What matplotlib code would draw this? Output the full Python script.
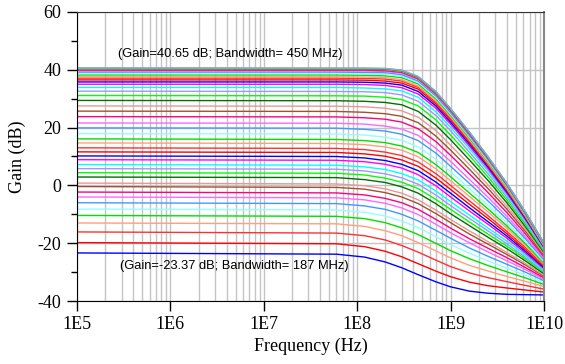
import matplotlib
matplotlib.use("Agg")
import matplotlib.pyplot as plt
from matplotlib.ticker import FixedLocator, NullFormatter, MultipleLocator

freq_hz = [1e5, 6e7, 1.2e8, 2e8, 3e8, 4.5e8, 7e8, 1e9, 1.6e9, 2.5e9, 4e9, 6.3e9, 1e10]

# Gain (dB) of the 46 curves, bottom curve first, one list per frequency
gain_100kHz = [-23.37, -19.8, -16.1, -13.0, -10.4, -8.2, -6.0, -4.0, -2.3, -0.4,
               0.8, 2.9, 4.4, 5.8, 7.2, 8.9, 10.2, 11.6, 13.0, 14.7,
               16.1, 17.9, 19.9, 21.6, 23.8, 25.7, 27.5, 29.4, 31.1, 32.6,
               33.9, 35.0, 35.8, 36.5, 37.1, 37.6, 38.2, 38.7, 39.2, 39.6,
               39.9, 40.1, 40.3, 40.45, 40.55, 40.65]
gain_60MHz = [-23.8, -20.2, -16.5, -13.3, -10.7, -8.5, -6.3, -4.3, -2.6, -0.7, 0.5, 2.7, 4.2, 5.6, 7.0, 8.7,
              10.0, 11.4, 12.8, 14.5, 15.9, 17.8, 19.8, 21.5, 23.7, 25.6, 27.4, 29.3, 31.0, 32.5, 33.9,
              35.0, 35.8, 36.5, 37.1, 37.6, 38.2, 38.7, 39.2, 39.6, 39.9, 40.1, 40.3, 40.4, 40.5, 40.6]
gain_120MHz = [-24.8, -21.2, -17.4, -14.2, -11.5, -9.3, -7.1, -5.0, -3.3, -1.3, -0.1, 2.0, 3.6, 5.0, 6.4, 8.2,
               9.5, 10.9, 12.4, 14.1, 15.5, 17.4, 19.4, 21.2, 23.4, 25.3, 27.2, 29.1, 30.9, 32.4, 33.7,
               34.9, 35.7, 36.4, 37.0, 37.5, 38.1, 38.6, 39.1, 39.6, 39.9, 40.1, 40.3, 40.4, 40.5, 40.6]
gain_200MHz = [-26.5, -22.8, -18.9, -15.7, -12.9, -10.6, -8.3, -6.2, -4.5, -2.5, -1.2, 1.0, 2.5, 4.0, 5.5, 7.3,
               8.6, 10.1, 11.5, 13.3, 14.8, 16.7, 18.8, 20.5, 22.9, 24.8, 26.7, 28.7, 30.5, 32.1, 33.4,
               34.6, 35.4, 36.1, 36.8, 37.3, 37.9, 38.4, 39.0, 39.4, 39.7, 39.9, 40.1, 40.3, 40.4, 40.5]
gain_300MHz = [-28.5, -24.7, -20.8, -17.4, -14.7, -12.3, -10.0, -7.8, -6.0, -4.0, -2.7, -0.5, 1.1, 2.6, 4.1, 6.0,
               7.3, 8.8, 10.3, 12.2, 13.6, 15.6, 17.7, 19.5, 21.9, 23.9, 25.8, 27.9, 29.7, 31.3, 32.7,
               33.8, 34.7, 35.4, 36.1, 36.6, 37.3, 37.8, 38.3, 38.8, 39.1, 39.3, 39.5, 39.7, 39.8, 39.9]
gain_450MHz = [-30.9, -27.1, -23.1, -19.8, -17.0, -14.6, -12.3, -10.1, -8.3, -6.3, -5.0, -2.7, -1.1, 0.4, 1.9, 3.7,
               5.1, 6.6, 8.1, 9.9, 11.4, 13.3, 15.5, 17.3, 19.6, 21.7, 23.6, 25.6, 27.5, 29.1, 30.5,
               31.6, 32.5, 33.3, 33.9, 34.4, 35.1, 35.6, 36.1, 36.6, 36.9, 37.1, 37.3, 37.5, 37.6, 37.7]
gain_700MHz = [-33.4, -29.7, -25.9, -22.7, -20.1, -17.8, -15.6, -13.5, -11.8, -9.8, -8.6, -6.4, -4.9, -3.4, -2.0, -0.2,
               1.1, 2.5, 4.0, 5.7, 7.1, 9.0, 11.1, 12.8, 15.1, 17.0, 18.9, 20.8, 22.6, 24.1, 25.4,
               26.6, 27.4, 28.1, 28.7, 29.2, 29.9, 30.4, 30.9, 31.3, 31.6, 31.8, 32.0, 32.2, 32.3, 32.4]
gain_1GHz = [-35.1, -31.6, -28.1, -25.1, -22.6, -20.5, -18.3, -16.4, -14.8, -12.9, -11.8, -9.8, -8.3, -7.0, -5.6, -4.0,
             -2.7, -1.4, 0.0, 1.6, 3.0, 4.7, 6.6, 8.3, 10.4, 12.2, 13.9, 15.8, 17.4, 18.9, 20.1,
             21.2, 21.9, 22.6, 23.2, 23.7, 24.3, 24.7, 25.2, 25.6, 25.9, 26.1, 26.3, 26.4, 26.5, 26.6]
gain_1p6GHz = [-36.6, -33.5, -30.3, -27.7, -25.4, -23.5, -21.7, -19.9, -18.5, -16.9, -15.8, -14.0, -12.7, -11.5, -10.3, -8.9,
               -7.8, -6.6, -5.4, -3.9, -2.7, -1.2, 0.6, 2.0, 3.9, 5.5, 7.1, 8.7, 10.2, 11.4, 12.6,
               13.5, 14.2, 14.8, 15.3, 15.7, 16.3, 16.7, 17.1, 17.5, 17.7, 17.9, 18.1, 18.2, 18.3, 18.4]
gain_2p5GHz = [-37.3, -34.7, -31.9, -29.6, -27.7, -26.1, -24.5, -23.0, -21.7, -20.3, -19.4, -17.9, -16.8, -15.7, -14.7, -13.4,
               -12.5, -11.4, -10.4, -9.1, -8.1, -6.8, -5.3, -4.0, -2.4, -1.0, 0.3, 1.8, 3.0, 4.1, 5.1,
               5.9, 6.5, 7.0, 7.5, 7.8, 8.3, 8.6, 9.0, 9.3, 9.5, 9.7, 9.8, 9.9, 10.0, 10.1]
gain_4GHz = [-37.7, -35.5, -33.3, -31.5, -29.9, -28.6, -27.3, -26.1, -25.0, -23.9, -23.2, -21.9, -21.0, -20.2, -19.3, -18.3,
             -17.5, -16.7, -15.9, -14.8, -14.0, -12.9, -11.7, -10.7, -9.4, -8.2, -7.2, -6.0, -5.0, -4.1, -3.3,
             -2.7, -2.2, -1.8, -1.4, -1.1, -0.7, -0.4, -0.1, 0.1, 0.3, 0.4, 0.5, 0.6, 0.7, 0.7]
gain_6p3GHz = [-37.8, -36.2, -34.6, -33.2, -32.0, -31.0, -30.0, -29.1, -28.4, -27.5, -27.0, -26.1, -25.4, -24.8, -24.1, -23.4,
               -22.8, -22.2, -21.5, -20.8, -20.1, -19.3, -18.4, -17.7, -16.7, -15.8, -15.0, -14.2, -13.4, -12.7, -12.2,
               -11.7, -11.3, -11.0, -10.7, -10.5, -10.2, -10.0, -9.8, -9.6, -9.5, -9.4, -9.3, -9.2, -9.2, -9.1]
gain_10GHz = [-37.9, -36.9, -35.9, -35.0, -34.3, -33.7, -33.0, -32.5, -32.0, -31.5, -31.1, -30.6, -30.1, -29.7, -29.4, -28.9,
              -28.5, -28.1, -27.7, -27.3, -26.9, -26.4, -25.8, -25.3, -24.7, -24.2, -23.7, -23.2, -22.7, -22.3, -21.9,
              -21.6, -21.4, -21.2, -21.0, -20.9, -20.7, -20.6, -20.4, -20.3, -20.2, -20.2, -20.1, -20.1, -20.0, -20.0]

x_ticks = [1e5, 1e6, 1e7, 1e8, 1e9, 1e10]
x_tick_labels = ['1E5', '1E6', '1E7', '1E8', '1E9', '1E10']
y_ticks = [-40, -20, 0, 20, 40, 60]
label_top = '(Gain=40.65 dB; Bandwidth= 450 MHz)'
label_bottom = '(Gain=-23.37 dB; Bandwidth= 187 MHz)'

colors = ['#0000ff', '#ff0000', '#ff3030', '#ffa07a', '#00e000', '#90ffff',
          '#3d9bff', '#ff66ff', '#ff0080', '#a0522d', '#e89898', '#007000',
          '#00ff00', '#9999ff', '#00ffff', '#ff00ff']

columns = [gain_100kHz, gain_60MHz, gain_120MHz, gain_200MHz, gain_300MHz, gain_450MHz,
           gain_700MHz, gain_1GHz, gain_1p6GHz, gain_2p5GHz, gain_4GHz, gain_6p3GHz, gain_10GHz]

plt.rcParams['font.family'] = 'Liberation Serif'
plt.rcParams['axes.unicode_minus'] = False
fig = plt.figure(figsize=(5.65, 3.64), dpi=100)
ax = fig.add_axes([77/565, 1-301/364, 467/565, 289/364])
ax.set_xscale('log')
ax.set_xlim(1e5, 1e10)
ax.set_ylim(-40, 60)
ax.xaxis.set_major_locator(FixedLocator(x_ticks))
ax.set_xticklabels(x_tick_labels)
minors = [m*10**e for e in range(5, 10) for m in range(2, 10)]
ax.xaxis.set_minor_locator(FixedLocator(minors))
ax.xaxis.set_minor_formatter(NullFormatter())
ax.yaxis.set_major_locator(FixedLocator(y_ticks))
ax.yaxis.set_minor_locator(MultipleLocator(10))
ax.grid(True, which='major', color='#c4c4c4', lw=1.0)
ax.grid(True, which='minor', axis='x', color='#c4c4c4', lw=1.0)
ax.set_axisbelow(True)
ax.tick_params(axis='both', which='major', direction='out', length=7.5, width=1,
               labelsize=13, color='black')
ax.tick_params(axis='x', which='major', pad=3)
ax.tick_params(axis='y', which='major', pad=4)
ax.tick_params(axis='x', which='minor', length=0)
ax.tick_params(axis='y', which='minor', direction='out', length=4.5, width=1)

for k in range(len(gain_100kHz)):
    ax.plot(freq_hz, [col[k] for col in columns], color=colors[k % len(colors)], lw=1.0)

ax.spines['left'].set_color('black')
ax.spines['bottom'].set_color('black')
ax.spines['top'].set_color('#333333')
ax.spines['right'].set_color('#888888')
ax.spines['right'].set_linewidth(1.5)
ax.set_xlabel('Frequency (Hz)', fontsize=13, labelpad=4)
ax.set_ylabel('Gain (dB)', fontsize=13, labelpad=8)
ax.text(2.75e5, 45.5, label_top, family='Liberation Sans',
        fontsize=9.3, va='center', ha='left')
ax.text(2.9e5, -27.9, label_bottom, family='Liberation Sans',
        fontsize=9.3, va='center', ha='left')
fig.savefig("out.png", dpi=100)
